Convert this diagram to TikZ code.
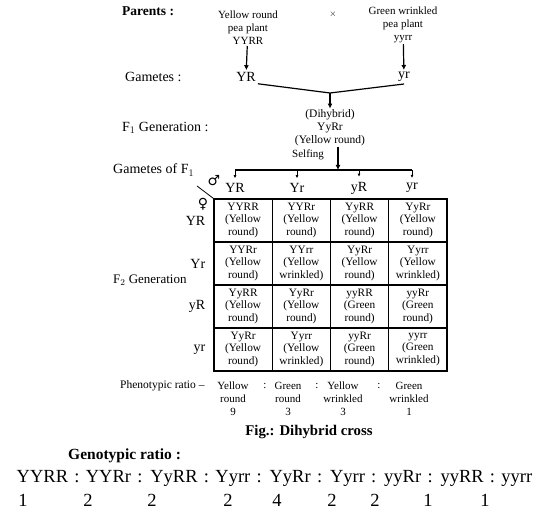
\documentclass[tikz,border=0pt]{standalone}
\usepackage{fontspec}
\setmainfont{Liberation Serif}
\newfontfamily\symfont{DejaVu Sans}
\usetikzlibrary{arrows.meta,positioning,calc}
\tikzset{
  lbl/.style={inner sep=1pt, anchor=west, font=\fontsize{14}{16}\selectfont},
  plant/.style={align=center, inner sep=1pt, font=\fontsize{11}{13}\selectfont},
  gam/.style={inner sep=2pt, font=\fontsize{14}{16}\selectfont},
  cell/.style={draw, line width=1.1pt, minimum width=58.25pt, minimum height=43pt,
               align=center, inner sep=0pt, font=\fontsize{11.3}{12.7}\selectfont},
  sex/.style={inner sep=0pt, font=\symfont\fontsize{14}{14}\selectfont},
  gnum/.style={inner sep=0pt, font=\fontsize{18.5}{20}\selectfont},
  arrow/.style={-{Latex[length=5pt,width=5pt]}, line width=1.2pt},
  tick/.style={-{Latex[length=3pt,width=3pt]}, line width=0.8pt, shorten >=3pt},
  bar/.style={line width=1.2pt},
}

\begin{document}
\begin{tikzpicture}[x=1pt,y=1pt]
\useasboundingbox (0,0) rectangle (549,514);

% parents
\node[lbl, font=\bfseries\fontsize{13.5}{16}\selectfont] (parents) at (121,503) {Parents :};
\node[plant] (yplant) at (248,486) {Yellow round\\pea plant\\YYRR};
\node[plant, font=\fontsize{9}{10}\selectfont] (cross) at (333,500) {$\times$};
\node[plant] (gplant) at (403,489) {Green wrinkled\\pea plant\\yyrr};

% gametes
\node[lbl] (gametes) at (124,437) {Gametes :};
\node[gam] (gYR) at (246,437) {YR};
\node[gam] (gyr) at (404,437) {yr};
\draw[arrow] (yplant) -- (gYR);
\draw[arrow] (gplant) -- (gyr);

\coordinate (join) at (330,421);
\draw[bar] (gYR.south east) -- (join) -- (gyr.south);

% F1
\node[plant, font=\fontsize{11.5}{13}\selectfont] (f1) at (330,386) {(Dihybrid)\\YyRr\\(Yellow round)};
\draw[arrow] (join) -- (f1);
\node[lbl] (f1gen) at (121,386) {F$_1$ Generation :};
\node[plant, anchor=west] (selfing) at (291,359) {Selfing};

% gametes of F1
\node[lbl] (gamf1) at (112,344) {Gametes of F$_1$};
\coordinate (barY) at (0,344);
\coordinate (selfX) at (338,344);
\draw[arrow] (f1.south -| selfX) -- (selfX);
\foreach \g/\x [count=\n] in {YR/235, Yr/297, yR/359, yr/412}
  \node[gam] (h\n) at (\x,326) {\g};
\draw[bar] (h1 |- barY) -- (h4 |- barY);
\foreach \n in {1,...,4}
  \draw[tick] (h\n |- barY) -- (h\n);

% Punnett square
\foreach \r/\c/\g/\p/\q in {
  1/1/YYRR/Yellow/round, 1/2/YYRr/Yellow/round, 1/3/YyRR/Yellow/round, 1/4/YyRr/Yellow/round,
  2/1/YYRr/Yellow/round, 2/2/YYrr/Yellow/wrinkled, 2/3/YyRr/Yellow/round, 2/4/Yyrr/Yellow/wrinkled,
  3/1/YyRR/Yellow/round, 3/2/YyRr/Yellow/round, 3/3/yyRR/Green/round, 3/4/yyRr/Green/round,
  4/1/YyRr/Yellow/round, 4/2/Yyrr/Yellow/wrinkled, 4/3/yyRr/Green/round, 4/4/yyrr/Green/wrinkled}
  \node[cell] (cell-\r-\c) at ({214+58.25*(\c-0.5)},{315-43*(\r-0.5)}) {\g\\(\p\\\q)};
\foreach \g [count=\r] in {YR,Yr,yR,yr}
  \node[gam, left=6pt of cell-\r-1] (row\r) {\g};
\node[lbl, font=\fontsize{13}{15}\selectfont] (f2gen) at (112,234) {F$_2$ Generation};

% male / female corner
\coordinate (slash) at (197,328);
\draw[line width=0.8pt] (slash) -- (cell-1-1.north west);
\node[sex] (male) at (214,333) {♂};
\node[sex] (female) at (203,310) {♀};

% phenotypic ratio
\node[plant, anchor=west, font=\fontsize{11.5}{13}\selectfont] (pheno) at (119,128) {Phenotypic ratio --};
\foreach \t/\x [count=\n] in {{Yellow\\round\\9}/233, {Green\\round\\3}/288,
                               {Yellow\\wrinkled\\3}/343, {Green\\wrinkled\\1}/409}
  \node[plant] (ph\n) at (\x,115) {\t};
\foreach \x [count=\n] in {265,317,379}
  \node[plant] (colon\n) at (\x,128) {:};
\node[font=\bfseries\fontsize{14.8}{16}\selectfont] (caption) at (309,82) {Fig.: Dihybrid cross};

% genotypic ratio
\node[lbl, font=\bfseries\fontsize{15.5}{18}\selectfont] (genotitle) at (67,58) {Genotypic ratio :};
\node[gnum] (genoline) at (274.5,36)
  {\spaceskip=6.3pt YYRR : YYRr : YyRR : Yyrr : YyRr : Yyrr : yyRr : yyRR : yyrr};
\foreach \v/\x [count=\n] in {1/23, 2/88, 2/152, 2/228, 4/277, 2/332, 2/375, 1/428, 1/485}
  \node[gnum] (num\n) at (\x,14) {\v};
\end{tikzpicture}
\end{document}
